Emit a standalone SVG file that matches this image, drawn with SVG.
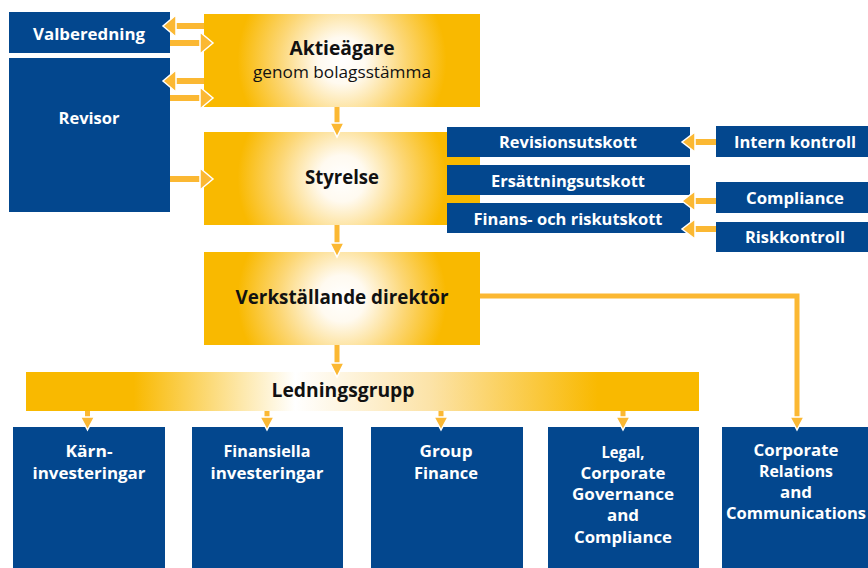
<svg xmlns="http://www.w3.org/2000/svg" width="868" height="568" viewBox="0 0 868 568">
<defs>
<radialGradient id="gbox" cx="0.5" cy="0.5" r="0.42" gradientTransform="translate(0.5,0.5) scale(1,2.97) translate(-0.5,-0.5)">
<stop offset="0" stop-color="#ffffff"/>
<stop offset="0.2" stop-color="#fffaf0"/>
<stop offset="0.55" stop-color="#fcd673"/>
<stop offset="0.9" stop-color="#f9b900"/>
<stop offset="1" stop-color="#f9b900"/>
</radialGradient>
<linearGradient id="gbar" x1="0" y1="0" x2="1" y2="0">
<stop offset="0" stop-color="#f9b900"/>
<stop offset="0.16" stop-color="#f9b900"/>
<stop offset="0.4" stop-color="#ffffff"/>
<stop offset="0.6" stop-color="#fce3a8"/>
<stop offset="0.85" stop-color="#f9b900"/>
<stop offset="1" stop-color="#f9b900"/>
</linearGradient>
</defs>
<style>
.blue{fill:#03478e}
.ybox{fill:url(#gbox)}
.wt{fill:#ffffff;font-family:"Open Sans","Noto Sans",sans-serif;font-weight:700;font-size:16.5px;text-anchor:middle}
.bt{fill:#111111;font-family:"Open Sans","Noto Sans",sans-serif;font-weight:700;font-size:19px;text-anchor:middle}
.rt{fill:#111111;font-family:"Open Sans","Noto Sans",sans-serif;font-weight:400;font-size:15.5px;text-anchor:middle}
.sh{fill:#fbb833}
.hd{fill:#fbb833;stroke:#ffffff;stroke-width:1.5;stroke-linejoin:miter}
.ln{fill:none;stroke:#fbb833;stroke-width:5}
</style>

<g id="valberedning">
<rect class="blue" x="9" y="12" width="161" height="41"/>
<text class="wt" x="89" y="40" font-size="17" textLength="112" lengthAdjust="spacingAndGlyphs">Valberedning</text>
</g>
<g id="revisor">
<rect class="blue" x="9" y="58" width="161" height="154"/>
<text class="wt" x="89" y="124" font-size="17" textLength="61" lengthAdjust="spacingAndGlyphs">Revisor</text>
</g>
<g id="aktieagare">
<rect class="ybox" x="204" y="14" width="276" height="93"/>
<text class="bt" x="342" y="55" textLength="105" lengthAdjust="spacingAndGlyphs">Aktieägare</text>
<text class="rt" x="342" y="78" textLength="178" lengthAdjust="spacingAndGlyphs">genom bolagsstämma</text>
</g>
<g id="styrelse">
<rect class="ybox" x="204" y="132" width="276" height="93"/>
<text class="bt" x="342" y="184" textLength="74" lengthAdjust="spacingAndGlyphs">Styrelse</text>
</g>
<g id="revisionsutskott">
<rect class="blue" x="447" y="127" width="243" height="30"/>
<text class="wt" x="568" y="148" textLength="138" lengthAdjust="spacingAndGlyphs">Revisionsutskott</text>
</g>
<g id="ersattningsutskott">
<rect class="blue" x="447" y="165" width="243" height="30"/>
<text class="wt" x="568" y="187" textLength="154" lengthAdjust="spacingAndGlyphs">Ersättningsutskott</text>
</g>
<g id="finansutskott">
<rect class="blue" x="447" y="203" width="243" height="30"/>
<text class="wt" x="568" y="225" textLength="189" lengthAdjust="spacingAndGlyphs">Finans- och riskutskott</text>
</g>
<g id="internkontroll">
<rect class="blue" x="716" y="126" width="152" height="31"/>
<text class="wt" x="795" y="148" textLength="122" lengthAdjust="spacingAndGlyphs">Intern kontroll</text>
</g>
<g id="compliance">
<rect class="blue" x="716" y="182" width="152" height="31"/>
<text class="wt" x="795" y="204" textLength="98" lengthAdjust="spacingAndGlyphs">Compliance</text>
</g>
<g id="riskkontroll">
<rect class="blue" x="716" y="222" width="152" height="30"/>
<text class="wt" x="795" y="243" textLength="100" lengthAdjust="spacingAndGlyphs">Riskkontroll</text>
</g>
<g id="vd">
<rect class="ybox" x="204" y="252" width="276" height="93"/>
<text class="bt" x="342" y="304" textLength="213" lengthAdjust="spacingAndGlyphs">Verkställande direktör</text>
</g>
<g id="ledningsgrupp">
<rect fill="url(#gbar)" x="26" y="372" width="673" height="39"/>
<text class="bt" x="343" y="397" font-size="18" textLength="143" lengthAdjust="spacingAndGlyphs">Ledningsgrupp</text>
</g>
<g id="karninvesteringar">
<rect class="blue" x="13" y="427" width="152" height="141"/>
<text class="wt" x="89" y="457" textLength="47" lengthAdjust="spacingAndGlyphs">Kärn-</text>
<text class="wt" x="89" y="479" textLength="113" lengthAdjust="spacingAndGlyphs">investeringar</text>
</g>
<g id="finansiella">
<rect class="blue" x="192" y="427" width="151" height="141"/>
<text class="wt" x="267" y="457" textLength="87" lengthAdjust="spacingAndGlyphs">Finansiella</text>
<text class="wt" x="267" y="479" textLength="113" lengthAdjust="spacingAndGlyphs">investeringar</text>
</g>
<g id="groupfinance">
<rect class="blue" x="371" y="427" width="152" height="141"/>
<text class="wt" x="446" y="457" textLength="53" lengthAdjust="spacingAndGlyphs">Group</text>
<text class="wt" x="446" y="479" textLength="64" lengthAdjust="spacingAndGlyphs">Finance</text>
</g>
<g id="legal">
<rect class="blue" x="548" y="427" width="151" height="141"/>
<text class="wt" x="623" y="458" textLength="43" lengthAdjust="spacingAndGlyphs">Legal,</text>
<text class="wt" x="623" y="479" textLength="85" lengthAdjust="spacingAndGlyphs">Corporate</text>
<text class="wt" x="623" y="500" textLength="102" lengthAdjust="spacingAndGlyphs">Governance</text>
<text class="wt" x="623" y="521" textLength="32" lengthAdjust="spacingAndGlyphs">and</text>
<text class="wt" x="623" y="543" textLength="98" lengthAdjust="spacingAndGlyphs">Compliance</text>
</g>
<g id="corporaterelations">
<rect class="blue" x="722" y="427" width="146" height="141"/>
<text class="wt" x="796" y="456" textLength="85" lengthAdjust="spacingAndGlyphs">Corporate</text>
<text class="wt" x="796" y="477" textLength="74" lengthAdjust="spacingAndGlyphs">Relations</text>
<text class="wt" x="796" y="498" textLength="32" lengthAdjust="spacingAndGlyphs">and</text>
<text class="wt" x="796" y="519" textLength="140" lengthAdjust="spacingAndGlyphs">Communications</text>
</g>

<g id="connectors">
<rect class="sh" x="174" y="23" width="30" height="6"/>
<polygon class="hd" points="176,15 163,26 176,37"/>
<rect class="sh" x="170" y="40" width="32" height="6"/>
<polygon class="hd" points="200,32 213,43 200,54"/>
<rect class="sh" x="174" y="78" width="30" height="6"/>
<polygon class="hd" points="176,70 163,81 176,92"/>
<rect class="sh" x="170" y="95" width="32" height="6"/>
<polygon class="hd" points="200,87 213,98 200,109"/>
<rect class="sh" x="170" y="176" width="32" height="6"/>
<polygon class="hd" points="200,168 213,179 200,190"/>
<rect class="sh" x="334.5" y="107" width="5" height="17"/>
<polygon class="hd" points="330,123 337,137 344,123"/>
<rect class="sh" x="334.5" y="225" width="5" height="19"/>
<polygon class="hd" points="330,243 337,257 344,243"/>
<rect class="sh" x="334.5" y="345" width="5" height="19"/>
<polygon class="hd" points="330,363 337,377 344,363"/>
<rect class="sh" x="693" y="139" width="23" height="6"/>
<polygon class="hd" points="695,132 682,142 695,152"/>
<rect class="sh" x="693" y="198" width="23" height="6"/>
<polygon class="hd" points="695,191 682,201 695,211"/>
<rect class="sh" x="693" y="226" width="23" height="6"/>
<polygon class="hd" points="695,219 682,229 695,239"/>
<polyline class="ln" points="480,296 797,296 797,419"/>
<polygon class="hd" points="790,417 797,430 804,417"/>
<rect class="sh" x="85" y="411" width="5" height="8"/>
<polygon class="hd" points="80.5,417 87.5,430 94.5,417"/>
<rect class="sh" x="264.5" y="411" width="5" height="8"/>
<polygon class="hd" points="260,417 267,430 274,417"/>
<rect class="sh" x="438.5" y="411" width="5" height="8"/>
<polygon class="hd" points="434,417 441,430 448,417"/>
<rect class="sh" x="620.5" y="411" width="5" height="8"/>
<polygon class="hd" points="616,417 623,430 630,417"/>
</g>
</svg>
